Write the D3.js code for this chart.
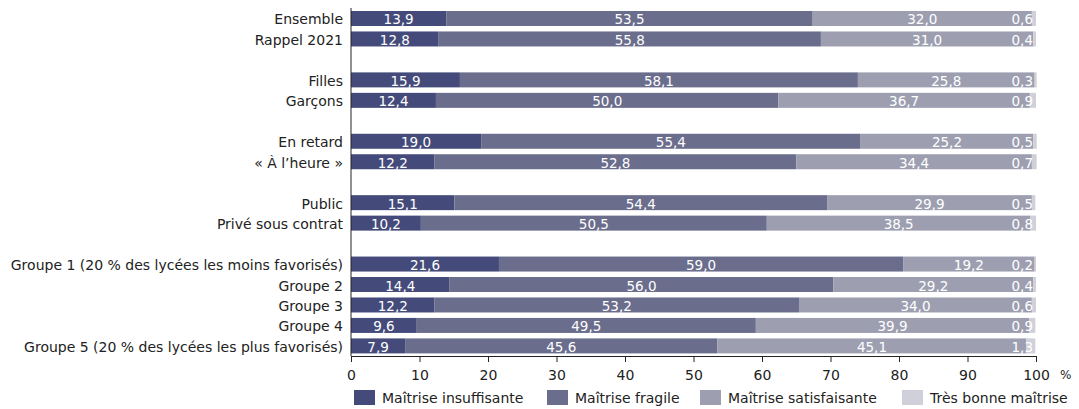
<!DOCTYPE html>
<html><head><meta charset="utf-8">
<script src="https://cdn.jsdelivr.net/npm/d3@7"></script>
<style>
body{margin:0;background:#fff;}
text{font-family:"DejaVu Sans",sans-serif;}
</style></head>
<body>
<svg id="c" width="1079" height="409"></svg>
<script>
const categories = ["Ensemble","Rappel 2021","","Filles","Garçons","","En retard","« À l’heure »","","Public","Privé sous contrat","","Groupe 1 (20 % des lycées les moins favorisés)","Groupe 2","Groupe 3","Groupe 4","Groupe 5 (20 % des lycées les plus favorisés)"];
const series = ["Maîtrise insuffisante","Maîtrise fragile","Maîtrise satisfaisante","Très bonne maîtrise"];
const insuffisante = [13.9,12.8,null,15.9,12.4,null,19.0,12.2,null,15.1,10.2,null,21.6,14.4,12.2,9.6,7.9];
const fragile      = [53.5,55.8,null,58.1,50.0,null,55.4,52.8,null,54.4,50.5,null,59.0,56.0,53.2,49.5,45.6];
const satisfaisante= [32.0,31.0,null,25.8,36.7,null,25.2,34.4,null,29.9,38.5,null,19.2,29.2,34.0,39.9,45.1];
const tresBonne    = [0.6,0.4,null,0.3,0.9,null,0.5,0.7,null,0.5,0.8,null,0.2,0.4,0.6,0.9,1.3];
const xTicks = [0,10,20,30,40,50,60,70,80,90,100];
const colors = ["#444b7a","#6a6d8c","#9d9fb1","#cfd0da"];

const svg = d3.select("#c");
const x = d3.scaleLinear().domain([0,100]).range([351,1036]);
const y = d3.scaleBand().domain(d3.range(categories.length)).range([11,353.4]).paddingInner(0.267).paddingOuter(0);

const valuesBySeries = [insuffisante,fragile,satisfaisante,tresBonne];
const rows = categories.map((c,i)=>({cat:c,i,vals:valuesBySeries.map(s=>s[i])})).filter(r=>r.cat!=="");

const fmt = v => v.toFixed(1).replace(".",",");

rows.forEach(r=>{
  let cum=0;
  const g = svg.append("g");
  r.vals.forEach((v,k)=>{
    const x0=x(cum), x1=x(cum+v);
    g.append("rect").attr("x",x0).attr("y",y(r.i)).attr("width",x1-x0).attr("height",y.bandwidth()).attr("fill",colors[k]);
    const t = g.append("text").attr("y",y(r.i)+y.bandwidth()/2+6).attr("fill","#fff").attr("font-size",13.5).text(fmt(v));
    if(k===3){ t.attr("x",x(100)-3).attr("text-anchor","end"); }
    else { t.attr("x",(x0+x1)/2).attr("text-anchor","middle"); }
    cum+=v;
  });
  svg.append("text").attr("x",343).attr("y",y(r.i)+y.bandwidth()/2+6).attr("text-anchor","end").attr("font-size",14).attr("fill","#222").text(r.cat);
});

// axes
svg.append("line").attr("x1",351).attr("x2",351).attr("y1",8).attr("y2",356).attr("stroke","#222").attr("stroke-width",1);
const ax = svg.append("g").attr("transform","translate(0,356)").call(d3.axisBottom(x).tickValues(xTicks).tickSize(6).tickPadding(8));
ax.select(".domain").attr("stroke","#222");
ax.selectAll(".tick line").attr("stroke","#222");
ax.selectAll(".tick text").attr("font-size",14).attr("fill","#222").attr("font-family","DejaVu Sans");
svg.append("text").attr("x",1060).attr("y",379).attr("font-size",12).attr("fill","#222").text("%");

// legend
const legX=[354,547,700,902];
series.forEach((s,k)=>{
  svg.append("rect").attr("x",legX[k]).attr("y",390).attr("width",21).attr("height",15).attr("fill",colors[k]);
  svg.append("text").attr("x",legX[k]+28).attr("y",403).attr("font-size",14).attr("fill","#222").text(s);
});
</script>
</body></html>
